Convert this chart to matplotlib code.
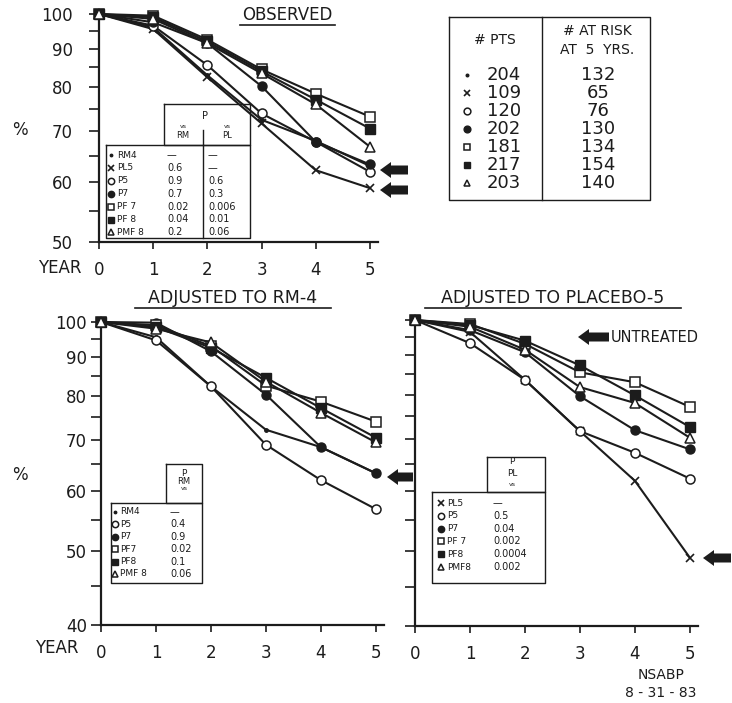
import numpy as np
import matplotlib
matplotlib.use("Agg")
import matplotlib.pyplot as plt
from matplotlib.ticker import FixedLocator, NullFormatter, FixedFormatter
from matplotlib.patches import FancyArrow

# ====== DATA ======
years = [0, 1, 2, 3, 4, 5]

# observed
obs_rm4 = [100, 96.0, 83.0, 72.5, 68.0, 63.0]
obs_pl5 = [100, 95.5, 82.5, 71.7, 62.2, 58.9]
obs_p5 = [100, 96.5, 85.6, 73.9, 67.8, 61.9]
obs_p7 = [100, 97.5, 91.5, 80.3, 67.8, 63.3]
obs_pf7 = [100, 99.5, 92.5, 84.5, 78.5, 73.2]
obs_pf8 = [100, 99.0, 92.0, 84.0, 77.1, 70.6]
obs_pmf8 = [100, 98.5, 91.5, 83.5, 76.0, 66.8]

# adjusted to RM-4
rm_rm4 = [100, 95.5, 82.3, 72.2, 68.5, 63.3]
rm_p5 = [100, 94.6, 82.3, 69.0, 62.0, 56.8]
rm_p7 = [100, 99.8, 91.5, 80.3, 68.5, 63.3]
rm_pf7 = [100, 99.0, 93.0, 82.5, 78.6, 74.0]
rm_pf8 = [100, 98.5, 92.5, 84.5, 77.1, 70.5]
rm_pmf8 = [100, 98.0, 94.0, 83.5, 76.0, 69.5]

# adjusted to placebo-5
pl_pl5 = [100, 96.5, 83.6, 71.7, 61.8, 49.1]
pl_p5 = [100, 93.3, 83.6, 71.7, 67.2, 62.2]
pl_p7 = [100, 97.0, 90.8, 79.6, 71.9, 67.9]
pl_pf7 = [100, 98.8, 93.1, 85.5, 83.0, 77.1]
pl_pf8 = [100, 98.5, 94.0, 87.3, 79.8, 72.6]
pl_pmf8 = [100, 98.0, 91.5, 81.8, 78.0, 70.3]

# tables
obs_names = ["RM4", "PL5", "P5", "P7", "PF 7", "PF 8", "PMF 8"]
obs_p_rm = ["\u2014", "0.6", "0.9", "0.7", "0.02", "0.04", "0.2"]
obs_p_pl = ["\u2014", "\u2014", "0.6", "0.3", "0.006", "0.01", "0.06"]
pts = ["204", "109", "120", "202", "181", "217", "203"]
at_risk = ["132", "65", "76", "130", "134", "154", "140"]
rm_names = ["RM4", "P5", "P7", "PF7", "PF8", "PMF 8"]
rm_p = ["\u2014", "0.4", "0.9", "0.02", "0.1", "0.06"]
pl_names = ["PL5", "P5", "P7", "PF 7", "PF8", "PMF8"]
pl_p = ["\u2014", "0.5", "0.04", "0.002", "0.0004", "0.002"]
# ==================

INK = "#1c1c1c"
W, H = 732, 703

# marker style per group
STY = {
    "RM4": dict(marker="o", ms=2.5, mfc=INK, mec=INK),
    "PL5": dict(marker="x", ms=6, mec=INK, mew=1.2),
    "P5": dict(marker="o", ms=6.5, mfc="white", mec=INK, mew=1.1),
    "P7": dict(marker="o", ms=6.5, mfc=INK, mec=INK),
    "PF7": dict(marker="s", ms=6.5, mfc="white", mec=INK, mew=1.1),
    "PF8": dict(marker="s", ms=6.5, mfc=INK, mec=INK),
    "PMF8": dict(marker="^", ms=6.5, mfc="white", mec=INK, mew=1.1),
}

plt.rcParams['font.family'] = ['DejaVu Sans']

fig = plt.figure(figsize=(W / 100, H / 100), dpi=100)
fig.patch.set_facecolor("white")


def px_axes(left, right, top, bottom):
    return fig.add_axes([left / W, 1 - bottom / H, (right - left) / W, (bottom - top) / H])


def setup(ax, ymin, labels=True, ypad=2.0):
    ax.set_yscale("log")
    ax.set_xlim(0, 5.15)
    ax.set_ylim(ymin, 100)
    for s in ["top", "right"]:
        ax.spines[s].set_visible(False)
    for s in ["left", "bottom"]:
        ax.spines[s].set_linewidth(1.6)
        ax.spines[s].set_color(INK)
    major = list(range(ymin, 101, 10))
    minor = list(range(ymin + 5, 100, 10))
    ax.yaxis.set_major_locator(FixedLocator(major))
    ax.yaxis.set_minor_locator(FixedLocator(minor))
    ax.yaxis.set_minor_formatter(NullFormatter())
    if labels:
        ax.yaxis.set_major_formatter(FixedFormatter([str(v) for v in major]))
    else:
        ax.yaxis.set_major_formatter(NullFormatter())
    ax.set_xticks(years)
    ax.set_xticklabels([str(y) for y in years])
    ax.tick_params(axis="y", which="both", direction="out", length=7.5, width=1.2,
                   color=INK, labelsize=12, pad=ypad, labelcolor=INK)
    ax.tick_params(axis="x", direction="out", length=5, width=1.2, color=INK,
                   labelsize=12, pad=9, labelcolor=INK)
    ax.patch.set_alpha(0)


def series(ax, ys, key):
    ax.plot(years, ys, color=INK, lw=1.5, clip_on=False, zorder=3, **STY[key])


# ---- top: observed ----
ax1 = px_axes(99, 378, 14, 242)
setup(ax1, 50, ypad=11.5)
for ys, k in [(obs_rm4, "RM4"), (obs_pl5, "PL5"), (obs_p5, "P5"), (obs_p7, "P7"),
              (obs_pf7, "PF7"), (obs_pf8, "PF8"), (obs_pmf8, "PMF8")]:
    series(ax1, ys, k)

# ---- bottom left: adjusted to RM-4 ----
ax2 = px_axes(101, 384, 322, 625)
setup(ax2, 40, ypad=2.5)
for ys, k in [(rm_rm4, "RM4"), (rm_p5, "P5"), (rm_p7, "P7"),
              (rm_pf7, "PF7"), (rm_pf8, "PF8"), (rm_pmf8, "PMF8")]:
    series(ax2, ys, k)

# ---- bottom right: adjusted to placebo-5 ----
ax3 = px_axes(415, 698, 320, 626)
setup(ax3, 40, labels=False)
for ys, k in [(pl_pl5, "PL5"), (pl_p5, "P5"), (pl_p7, "P7"),
              (pl_pf7, "PF7"), (pl_pf8, "PF8"), (pl_pmf8, "PMF8")]:
    series(ax3, ys, k)

# ---- overlay in pixel coords for text, tables and arrows ----
ov = fig.add_axes([0, 0, 1, 1])
ov.set_xlim(0, W)
ov.set_ylim(H, 0)
ov.axis("off")
ov.patch.set_alpha(0)


def txt(x, y, s, size, ha="center", **kw):
    ov.text(x, y, s, fontsize=size, ha=ha, va="center", color=INK, **kw)


def hline(x0, x1, y, lw=1.0):
    ov.plot([x0, x1], [y, y], color=INK, lw=lw)


def vline(x, y0, y1, lw=1.0):
    ov.plot([x, x], [y0, y1], color=INK, lw=lw)


def box(x0, x1, y0, y1, lw=1.0):
    ov.plot([x0, x1, x1, x0, x0], [y0, y0, y1, y1, y0], color=INK, lw=lw)


def arrow(tip_x, tail_x, y):
    ov.add_patch(FancyArrow(tail_x, y, tip_x - tail_x, 0, width=9, head_width=16,
                            head_length=11, length_includes_head=True,
                            color=INK, lw=0))


def mark(x, y, key, scale=0.7):
    st = dict(STY[key])
    st["ms"] = st["ms"] * scale
    ov.plot([x], [y], ls="none", **st)


# titles
txt(287, 15, "OBSERVED", 12)
hline(240, 335, 25, lw=1.2)
txt(233, 298, "ADJUSTED TO RM-4", 12.5)
hline(135, 331, 308, lw=1.2)
txt(553, 298, "ADJUSTED TO PLACEBO-5", 12.5)
hline(425, 681, 308, lw=1.2)

# axis words
txt(20, 130, "%", 12)
txt(20, 475, "%", 12)
txt(60, 268, "YEAR", 12)
txt(57, 648, "YEAR", 12)
txt(661, 675, "NSABP", 10)
txt(661, 693, "8 - 31 - 83", 10)

# arrows
arrow(380, 408, 170)
arrow(380, 408, 190)
arrow(387, 413, 477)
arrow(703, 731, 558)
arrow(578, 609, 337)
txt(611, 337, "UNTREATED", 10.5, ha="left")

# observed table
box(106, 250, 145, 238)
box(164, 250, 104, 145)
vline(203, 145, 238)
vline(203, 130, 145)
txt(205, 116, "P", 7)
txt(183, 126, "vs", 4.5)
txt(183, 136, "RM", 6)
txt(227, 126, "vs", 4.5)
txt(227, 136, "PL", 6)
obs_keys = ["RM4", "PL5", "P5", "P7", "PF7", "PF8", "PMF8"]
for i, (n, a, b) in enumerate(zip(obs_names, obs_p_rm, obs_p_pl)):
    y = 155 + 12.9 * i
    mark(111, y, obs_keys[i])
    txt(117, y, n, 6.5, ha="left")
    txt(167, y, a, 7, ha="left")
    txt(208, y, b, 7, ha="left")

# patients table
box(449, 650, 17, 200)
vline(542, 17, 200)
txt(495, 40, "# PTS", 10)
txt(597, 31, "# AT RISK", 10)
txt(597, 50, "AT  5  YRS.", 10)
for i, (a, b) in enumerate(zip(pts, at_risk)):
    y = 75 + 18 * i
    mark(467, y, obs_keys[i], scale=0.75)
    txt(504, y, a, 13)
    txt(598, y, b, 13)

# RM-4 table
box(111, 202, 503, 583)
box(166, 202, 464, 503)
txt(184, 473, "P", 6.5)
txt(184, 481, "RM", 6)
txt(184, 489, "vs", 4.5)
rm_keys = ["RM4", "P5", "P7", "PF7", "PF8", "PMF8"]
for i, (n, a) in enumerate(zip(rm_names, rm_p)):
    y = 512 + 12.4 * i
    mark(115, y, rm_keys[i])
    txt(120, y, n, 6.5, ha="left")
    txt(170, y, a, 7, ha="left")

# placebo-5 table
box(432, 545, 492, 583)
box(487, 545, 457, 492)
txt(512, 462, "P", 6.5)
txt(512, 473, "PL", 6.5)
txt(512, 485, "vs", 4.5)
pl_keys = ["PL5", "P5", "P7", "PF7", "PF8", "PMF8"]
for i, (n, a) in enumerate(zip(pl_names, pl_p)):
    y = 503 + 12.8 * i
    mark(441, y, pl_keys[i])
    txt(447, y, n, 6.5, ha="left")
    txt(493, y, a, 7, ha="left")

fig.savefig("out.png", dpi=100, facecolor="white")
